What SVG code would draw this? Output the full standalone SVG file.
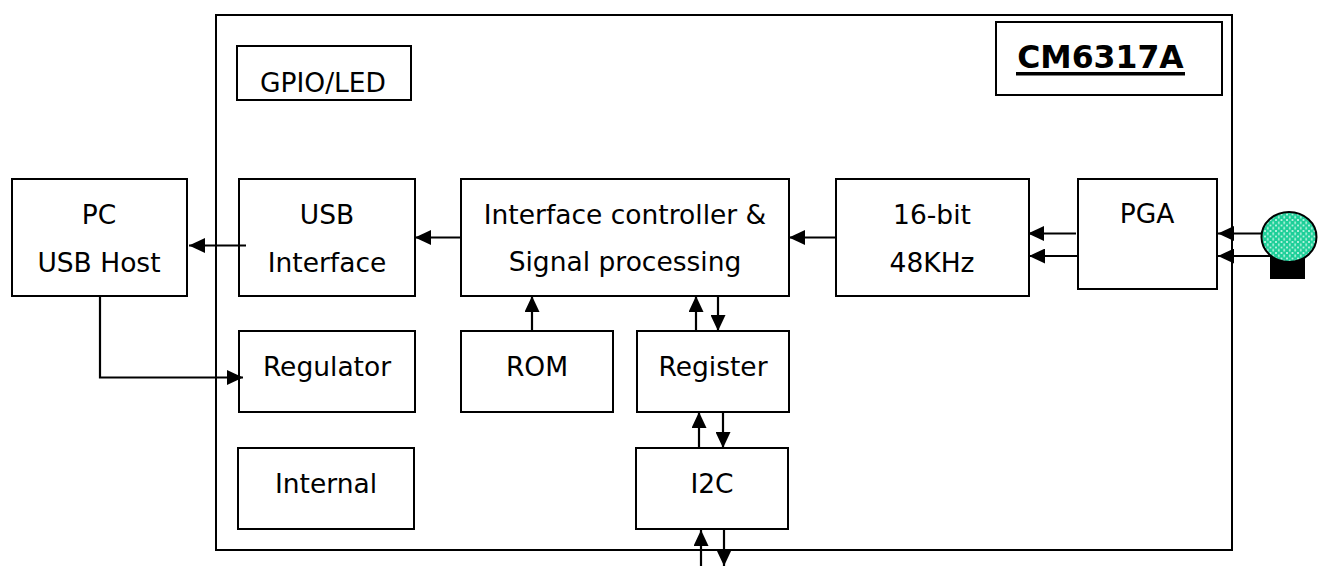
<svg xmlns="http://www.w3.org/2000/svg" width="1324" height="566" viewBox="0 0 1324 566">
<style>
.box{fill:#fff;stroke:#000;stroke-width:2}
.t{font-family:"DejaVu Sans","Verdana",sans-serif;font-size:26.5px;fill:#000;text-anchor:middle}
.ln{fill:none;stroke:#000;stroke-width:2.2}
.title{font-family:"DejaVu Sans","Verdana",sans-serif;font-size:31.5px;font-weight:bold;fill:#000;text-anchor:middle}
</style>
<defs>
<marker id="ah" viewBox="0 0 16 15" refX="16" refY="7.5" markerWidth="16" markerHeight="15" markerUnits="userSpaceOnUse" orient="auto">
<path d="M0,0 L16,7.5 L0,15 Z" fill="#000"/>
</marker>
<pattern id="dots" width="5.5" height="5.5" patternUnits="userSpaceOnUse">
<rect width="5.5" height="5.5" fill="#1ccf98"/>
<path d="M2.75,0.8 L3.7,2.75 L2.75,4.7 L1.8,2.75 Z" fill="#c4f6e4"/>
<circle cx="0" cy="0" r="0.9" fill="#ecfff8"/>
<circle cx="5.5" cy="0" r="0.9" fill="#ecfff8"/>
<circle cx="0" cy="5.5" r="0.9" fill="#ecfff8"/>
<circle cx="5.5" cy="5.5" r="0.9" fill="#ecfff8"/>
</pattern>
</defs>
<rect width="1324" height="566" fill="#fff"/>

<g id="chip"><rect class="box" x="216" y="15" width="1016" height="535"/></g>

<g id="title">
<rect class="box" x="996" y="22" width="226" height="73"/>
<text class="title" x="1100.5" y="68">CM6317A</text>
<rect x="1016" y="72" width="169" height="3.5" fill="#000"/>
</g>

<g id="gpio"><rect class="box" x="237" y="46" width="174" height="54"/><text class="t" x="323" y="92">GPIO/LED</text></g>
<g id="pc"><rect class="box" x="12" y="179" width="175" height="117"/><text class="t" x="99" y="224">PC</text><text class="t" x="99" y="272">USB Host</text></g>
<g id="usb"><rect class="box" x="239" y="179" width="176" height="117"/><text class="t" x="327" y="224">USB</text><text class="t" x="327" y="272">Interface</text></g>
<g id="ctrl"><rect class="box" x="461" y="179" width="328" height="117"/><text class="t" x="625" y="224">Interface controller &amp;</text><text class="t" x="625" y="271">Signal processing</text></g>
<g id="adc"><rect class="box" x="836" y="179" width="193" height="117"/><text class="t" x="932" y="224">16-bit</text><text class="t" x="932" y="272">48KHz</text></g>
<g id="pga"><rect class="box" x="1078" y="179" width="139" height="110"/><text class="t" x="1147" y="223">PGA</text></g>
<g id="reg"><rect class="box" x="239" y="331" width="176" height="81"/><text class="t" x="327" y="376">Regulator</text></g>
<g id="rom"><rect class="box" x="461" y="331" width="152" height="81"/><text class="t" x="537" y="376">ROM</text></g>
<g id="register"><rect class="box" x="637" y="331" width="152" height="81"/><text class="t" x="713" y="376">Register</text></g>
<g id="i2c"><rect class="box" x="636" y="448" width="152" height="81"/><text class="t" x="712" y="493">I2C</text></g>
<g id="internal"><rect class="box" x="238" y="448" width="176" height="81"/><text class="t" x="326" y="493">Internal</text></g>

<g id="mic">
<rect x="1270" y="250" width="35" height="29" fill="#000"/>
<ellipse cx="1289" cy="237" rx="27.5" ry="25" fill="url(#dots)" stroke="#000" stroke-width="2"/>
</g>

<g id="connectors">
<line class="ln" x1="246" y1="245.5" x2="189" y2="245.5" marker-end="url(#ah)"/>
<polyline class="ln" points="100,296 100,377.5 243,377.5" marker-end="url(#ah)"/>
<line class="ln" x1="461" y1="237.5" x2="415" y2="237.5" marker-end="url(#ah)"/>
<line class="ln" x1="836" y1="237.5" x2="789" y2="237.5" marker-end="url(#ah)"/>
<line class="ln" x1="1076" y1="233.5" x2="1028" y2="233.5" marker-end="url(#ah)"/>
<line class="ln" x1="1077" y1="256" x2="1029" y2="256" marker-end="url(#ah)"/>
<line class="ln" x1="1262" y1="233.5" x2="1218" y2="233.5" marker-end="url(#ah)"/>
<line class="ln" x1="1270" y1="256" x2="1218" y2="256" marker-end="url(#ah)"/>
<line class="ln" x1="532" y1="331" x2="532" y2="296" marker-end="url(#ah)"/>
<line class="ln" x1="696" y1="331" x2="696" y2="296" marker-end="url(#ah)"/>
<line class="ln" x1="718" y1="296" x2="718" y2="331" marker-end="url(#ah)"/>
<line class="ln" x1="699" y1="448" x2="699" y2="412" marker-end="url(#ah)"/>
<line class="ln" x1="723" y1="412" x2="723" y2="448" marker-end="url(#ah)"/>
<line class="ln" x1="701" y1="566" x2="701" y2="530" marker-end="url(#ah)"/>
<line class="ln" x1="724" y1="529" x2="724" y2="566" marker-end="url(#ah)"/>
</g>
</svg>
